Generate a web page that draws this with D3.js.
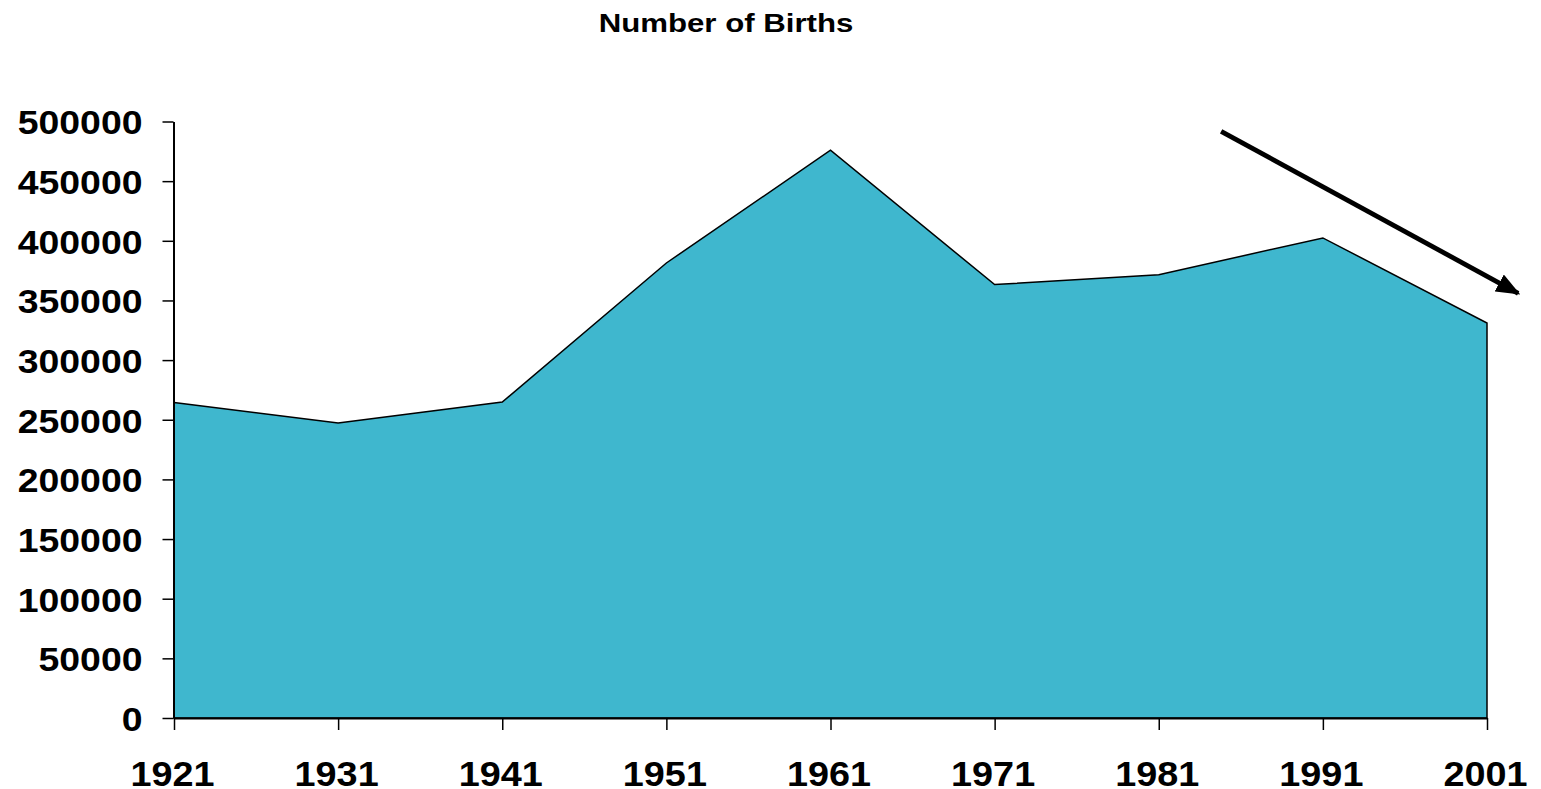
<!DOCTYPE html>
<html>
<head>
<meta charset="utf-8">
<script src="https://cdn.jsdelivr.net/npm/d3@7"></script>
<style>
  html, body { margin: 0; padding: 0; background: #fff; }
  svg { display: block; }
  text { font-family: "Liberation Sans", Arial, sans-serif; font-weight: bold; fill: #000; }
</style>
</head>
<body>
<svg id="chart" width="1541" height="789"></svg>
<script>
const years = [1921, 1931, 1941, 1951, 1961, 1971, 1981, 1991, 2001];
const births = [264500, 247200, 264800, 381400, 475900, 363300, 371600, 402400, 331100];
const yTicks = [0, 50000, 100000, 150000, 200000, 250000, 300000, 350000, 400000, 450000, 500000];
const title = "Number of Births";
// trend arrow annotation in data units: [year, value]
const arrowFrom = [1984.8, 491800];
const arrowTo = [2002.9, 356000];

const svg = d3.select("#chart");
const x = d3.scaleLinear().domain([1921, 2001]).range([174, 1487]);
const y = d3.scaleLinear().domain([0, 500000]).range([718, 121.5]);
const data = years.map((yr, i) => ({ yr, v: births[i] }));

const area = d3.area().x(d => x(d.yr)).y0(y(0)).y1(d => y(d.v));
svg.append("path")
  .datum(data)
  .attr("d", area)
  .attr("fill", "#3FB7CE")
  .attr("stroke", "#000")
  .attr("stroke-width", 1.5)
  .attr("stroke-linejoin", "miter");

// Y axis
const yAxis = svg.append("g")
  .attr("transform", `translate(${x(1921) - 0.5},0)`)
  .call(d3.axisLeft(y).tickValues(yTicks).tickFormat(d3.format("d")).tickSize(11).tickPadding(0).tickSizeOuter(0));
yAxis.select(".domain").attr("stroke-width", 2);
yAxis.selectAll(".tick line").attr("stroke-width", 1.5);
yAxis.selectAll(".tick text")
  .attr("x", null).attr("dy", null)
  .attr("font-size", 34)
  .attr("text-anchor", "end")
  .attr("dominant-baseline", "central")
  .attr("transform", `translate(-31,1) scale(1.1,1)`);

// X axis
const xAxis = svg.append("g")
  .attr("transform", `translate(0,${y(0)})`)
  .call(d3.axisBottom(x).tickValues(years).tickFormat(d3.format("d")).tickSize(12).tickPadding(0).tickSizeOuter(0));
xAxis.select(".domain").attr("stroke-width", 2);
xAxis.selectAll(".tick line").attr("stroke-width", 1.5);
xAxis.selectAll(".tick text")
  .attr("y", null).attr("dy", null)
  .attr("font-size", 35)
  .attr("text-anchor", "middle")
  .attr("transform", `translate(-2,67.5) scale(1.08,1)`);
svg.selectAll(".domain").attr("stroke", "#000");
svg.selectAll(".tick line").attr("stroke", "#000");

// Title
svg.append("text")
  .attr("transform", `translate(726,32) scale(1.2,1)`)
  .attr("text-anchor", "middle")
  .attr("font-size", 26)
  .text(title);

// Arrow
const defs = svg.append("defs");
defs.append("marker")
  .attr("id", "ah")
  .attr("viewBox", "0 0 10 8")
  .attr("refX", 9).attr("refY", 4)
  .attr("markerWidth", 5).attr("markerHeight", 4)
  .attr("markerUnits", "strokeWidth")
  .attr("orient", "auto")
  .append("path").attr("d", "M0,0L10,4L0,8Z").attr("fill", "#000");
svg.append("line")
  .attr("x1", x(arrowFrom[0])).attr("y1", y(arrowFrom[1]))
  .attr("x2", x(arrowTo[0])).attr("y2", y(arrowTo[1]))
  .attr("stroke", "#000").attr("stroke-width", 4.8)
  .attr("marker-end", "url(#ah)");
</script>
</body>
</html>
